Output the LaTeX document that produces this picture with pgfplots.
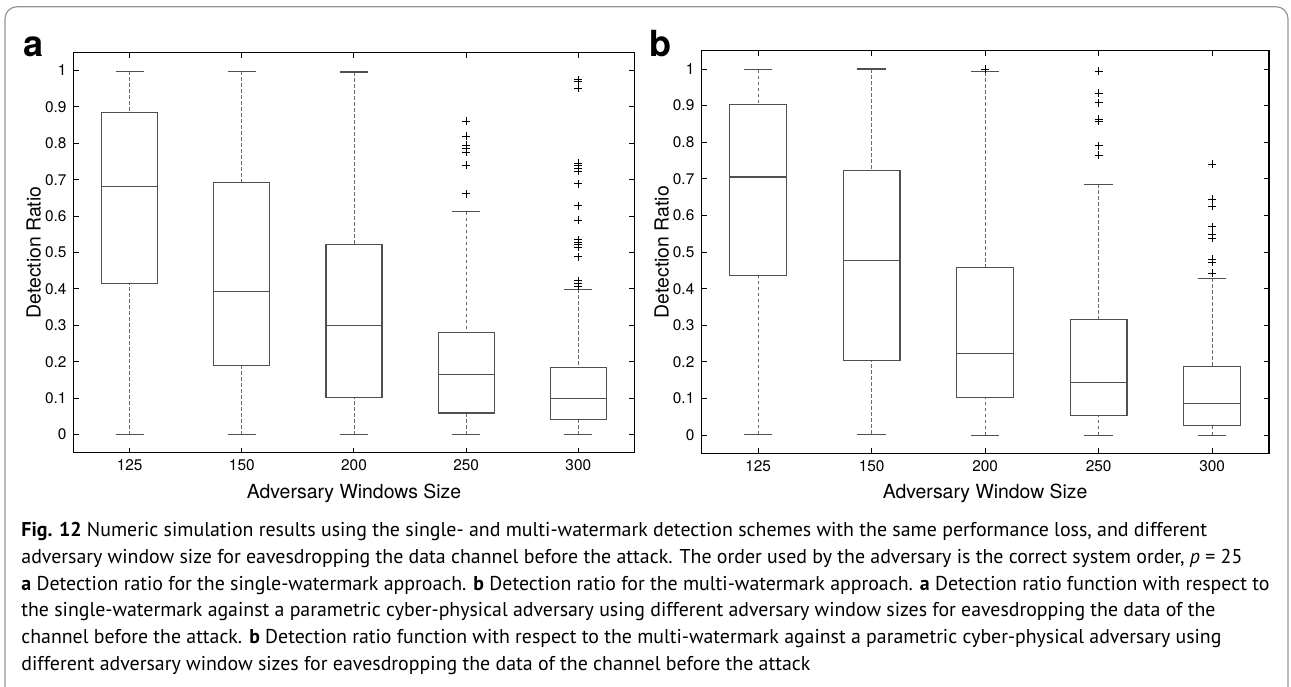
\documentclass[border=0pt]{standalone}
\usepackage{pgfplots}
\pgfplotsset{compat=1.18}
\usepgfplotslibrary{statistics}
\usepackage{graphicx}
\usepackage{fontspec}
\setmainfont{TeX Gyre Heros}
\newfontfamily\capfont{PT Sans}
\definecolor{boxgray}{RGB}{80,80,80}
\definecolor{whgray}{RGB}{105,105,105}
\definecolor{framegray}{RGB}{150,150,150}

\pgfplotsset{
  mybox/.style={
    scale only axis, xmin=0.5, xmax=5.5, ymin=-0.05, ymax=1.05,
    xtick={1,2,3,4,5}, xticklabels={125,150,200,250,300},
    ytick={0,0.1,0.2,0.3,0.4,0.5,0.6,0.7,0.8,0.9,1},
    yticklabels={0,0.1,0.2,0.3,0.4,0.5,0.6,0.7,0.8,0.9,1},
    tick align=inside, major tick length=2.6pt,
    tick style={black, line width=0.5pt},
    axis line style={line width=0.7pt, black},
    ticklabel style={font=\fontsize{7.7}{9}\selectfont},
    label style={font=\fontsize{9.7}{11}\selectfont},
    boxplot/draw direction=y,
    boxplot/box extend=0.5, boxplot/whisker extend=0.25,
    boxplot/draw/lower whisker/.code={%
      \draw[whgray, dash pattern=on 1.8pt off 1.2pt, line width=0.45pt]
        (boxplot cs:\pgfplotsboxplotvalue{lower whisker}) --
        (boxplot cs:\pgfplotsboxplotvalue{lower quartile});
      \draw (boxplot whisker cs:\pgfplotsboxplotvalue{lower whisker},0) --
        (boxplot whisker cs:\pgfplotsboxplotvalue{lower whisker},1);
    },
    boxplot/draw/upper whisker/.code={%
      \draw[whgray, dash pattern=on 1.8pt off 1.2pt, line width=0.45pt]
        (boxplot cs:\pgfplotsboxplotvalue{upper whisker}) --
        (boxplot cs:\pgfplotsboxplotvalue{upper quartile});
      \draw (boxplot whisker cs:\pgfplotsboxplotvalue{upper whisker},0) --
        (boxplot whisker cs:\pgfplotsboxplotvalue{upper whisker},1);
    },
  },
  bx/.style={boxgray, line width=0.55pt, mark=+, mark size=2pt,
    mark options={black, solid, line width=0.45pt}},
}

\begin{document}
\begin{tikzpicture}
\begin{scope}[x=0.5pt,y=-0.5pt]
\path[use as bounding box] (0,0) rectangle (1291,686);
\draw[framegray, line width=0.6pt, rounded corners=6pt] (5,720) -- (5,6.7) -- (1288,6.7) -- (1288,720);
\node[anchor=base west, inner sep=0, font=\bfseries\fontsize{18}{20}\selectfont] at (23,56.7) {a};
\node[anchor=base west, inner sep=0, font=\bfseries\fontsize{18}{20}\selectfont] at (649,56.7) {b};
\begin{scope}[every node/.style={anchor=base west, inner sep=0, font=\capfont\fontsize{10}{12}\selectfont}]
\node at (21,536.7) {\resizebox{592.8pt}{\height}{\textbf{Fig. 12} Numeric simulation results using the single- and multi-watermark detection schemes with the same performance loss, and different}};
\node at (21,563.3) {\resizebox{610.5pt}{\height}{adversary window size for eavesdropping the data channel before the attack. The order used by the adversary is the correct system order, \textit{p} = 25}};
\node at (21,590) {\resizebox{624pt}{\height}{\textbf{a} Detection ratio for the single-watermark approach. \textbf{b} Detection ratio for the multi-watermark approach. \textbf{a} Detection ratio function with respect to}};
\node at (21,616.7) {\resizebox{597pt}{\height}{the single-watermark against a parametric cyber-physical adversary using different adversary window sizes for eavesdropping the data of the}};
\node at (21,643.3) {\resizebox{600pt}{\height}{channel before the attack. \textbf{b} Detection ratio function with respect to the multi-watermark against a parametric cyber-physical adversary using}};
\node at (21,670) {\resizebox{394.5pt}{\height}{different adversary window sizes for eavesdropping the data of the channel before the attack}};
\end{scope}
\end{scope}

% Panel a
\begin{axis}[mybox, at={(36.8pt,-226.35pt)}, anchor=south west,
  width=280.4pt, height=200.2pt,
  xlabel={Adversary Windows Size}, ylabel={Detection Ratio},
  xlabel style={at={(axis description cs:0.5,-0.1014)}, anchor=center},
  ylabel style={at={(axis description cs:-0.071,0.5)}, anchor=center}]
\addplot[bx, boxplot prepared={draw position=1, lower whisker=0, lower quartile=0.416, median=0.682, upper quartile=0.885, upper whisker=0.998}] coordinates {};
\addplot[bx, boxplot prepared={draw position=2, lower whisker=0, lower quartile=0.190, median=0.394, upper quartile=0.693, upper whisker=0.998}] coordinates {};
\addplot[bx, boxplot prepared={draw position=3, lower whisker=0, lower quartile=0.102, median=0.300, upper quartile=0.523, upper whisker=0.996}] coordinates {};
\addplot[bx, boxplot prepared={draw position=4, lower whisker=0, lower quartile=0.059, median=0.164, upper quartile=0.281, upper whisker=0.612}] table[row sep=\\, y index=0] {y\\ 0.861\\ 0.819\\ 0.794\\ 0.787\\ 0.775\\ 0.740\\ 0.661\\};
\addplot[bx, boxplot prepared={draw position=5, lower whisker=0, lower quartile=0.040, median=0.098, upper quartile=0.184, upper whisker=0.399}] table[row sep=\\, y index=0] {y\\ 0.975\\ 0.971\\ 0.952\\ 0.746\\ 0.738\\ 0.732\\ 0.724\\ 0.689\\ 0.629\\ 0.588\\ 0.535\\ 0.528\\ 0.522\\ 0.515\\ 0.489\\ 0.422\\ 0.414\\ 0.408\\};
\end{axis}

% Panel b
\begin{axis}[mybox, at={(350.7pt,-226.75pt)}, anchor=south west,
  width=283.75pt, height=201.4pt,
  xlabel={Adversary Window Size}, ylabel={Detection Ratio},
  xlabel style={at={(axis description cs:0.5,-0.0988)}, anchor=center},
  ylabel style={at={(axis description cs:-0.0701,0.5)}, anchor=center}]
\addplot[bx, boxplot prepared={draw position=1, lower whisker=0.002, lower quartile=0.436, median=0.705, upper quartile=0.903, upper whisker=0.998}] coordinates {};
\addplot[bx, boxplot prepared={draw position=2, lower whisker=0.003, lower quartile=0.205, median=0.476, upper quartile=0.722, upper whisker=1.0}] coordinates {};
\addplot[bx, boxplot prepared={draw position=3, lower whisker=0, lower quartile=0.102, median=0.222, upper quartile=0.459, upper whisker=0.992}] table[row sep=\\, y index=0] {y\\ 0.999\\};
\addplot[bx, boxplot prepared={draw position=4, lower whisker=0, lower quartile=0.053, median=0.145, upper quartile=0.317, upper whisker=0.685}] table[row sep=\\, y index=0] {y\\ 0.994\\ 0.934\\ 0.908\\ 0.863\\ 0.858\\ 0.790\\ 0.764\\};
\addplot[bx, boxplot prepared={draw position=5, lower whisker=0, lower quartile=0.027, median=0.086, upper quartile=0.188, upper whisker=0.428}] table[row sep=\\, y index=0] {y\\ 0.740\\ 0.645\\ 0.625\\ 0.569\\ 0.548\\ 0.538\\ 0.480\\ 0.472\\ 0.442\\};
\end{axis}
\end{tikzpicture}
\end{document}
